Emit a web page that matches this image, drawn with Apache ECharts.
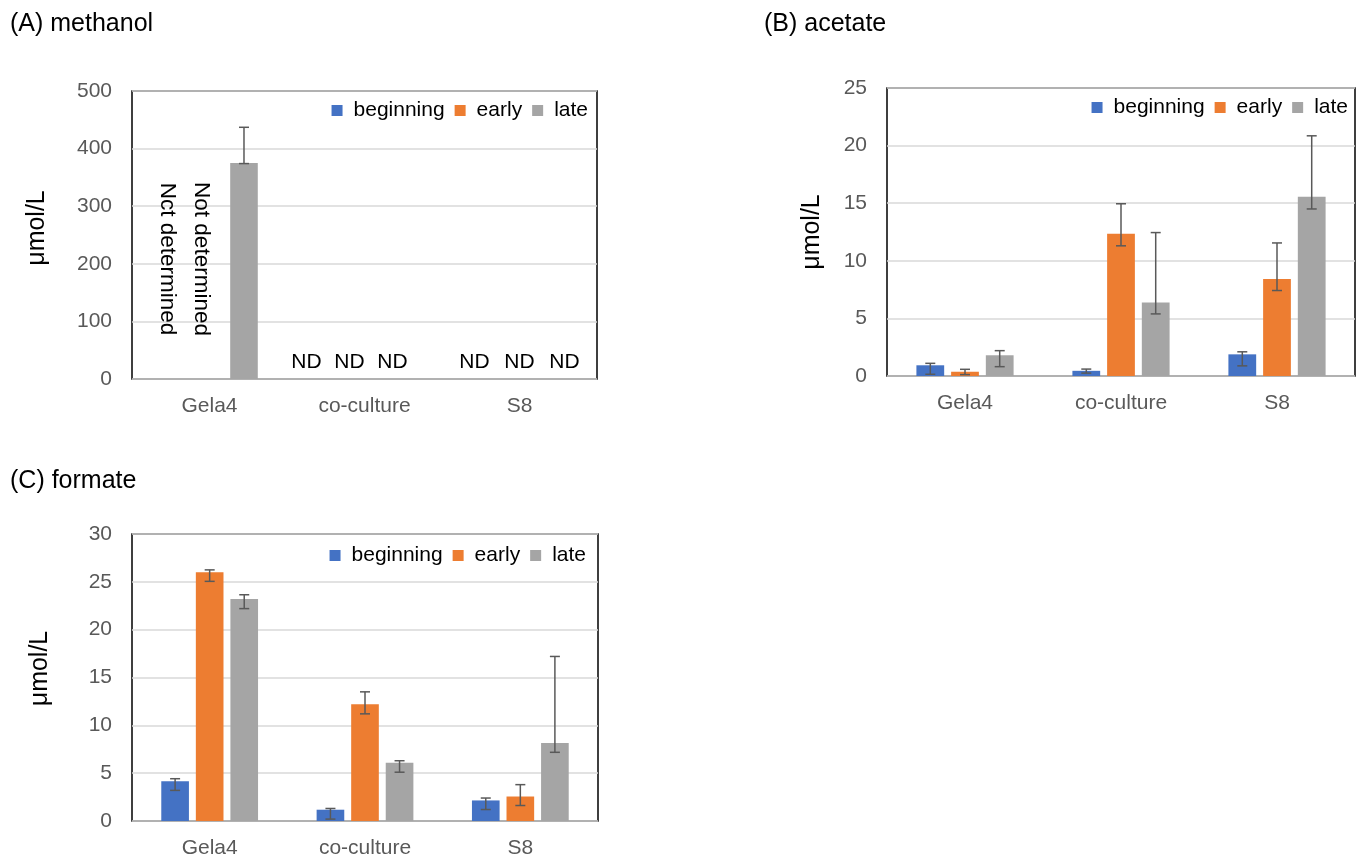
<!DOCTYPE html>
<html>
<head>
<meta charset="utf-8">
<script src="https://cdn.jsdelivr.net/npm/echarts@6/dist/echarts.min.js"></script>
<style>
html,body{margin:0;padding:0;background:#fff;}
#chart{width:1359px;height:859px;}
</style>
</head>
<body>
<div id="chart"></div>
<script>
// ---------- data ----------
const categories = ['Gela4', 'co-culture', 'S8'];
const seriesNames = ['beginning', 'early', 'late'];
const panelTitles = ['(A) methanol', '(B) acetate', '(C) formate'];
const yAxisName = 'μmol/L';

// (A) methanol
const methanolBeginning = [null, null, null];
const methanolEarly = [null, null, null];
const methanolLate = [375, null, null];
const methanolLateLow = [374, null, null];
const methanolLateHigh = [437, null, null];
const methanolNotes = [
  ['Nct determined', 'Not determined', null],
  ['ND', 'ND', 'ND'],
  ['ND', 'ND', 'ND']
];

// (B) acetate
const acetateBeginning = [0.93, 0.45, 1.88];
const acetateEarly = [0.37, 12.35, 8.43];
const acetateLate = [1.8, 6.37, 15.55];
const acetateBeginningLow = [0.15, 0.25, 0.88];
const acetateBeginningHigh = [1.1, 0.6, 2.1];
const acetateEarlyLow = [0.12, 11.3, 7.42];
const acetateEarlyHigh = [0.58, 14.95, 11.55];
const acetateLateLow = [0.81, 5.39, 14.5];
const acetateLateHigh = [2.2, 12.45, 20.85];

// (C) formate
const formateBeginning = [4.15, 1.18, 2.15];
const formateEarly = [26.0, 12.2, 2.56];
const formateLate = [23.2, 6.1, 8.15];
const formateBeginningLow = [3.2, 0.2, 1.2];
const formateBeginningHigh = [4.42, 1.31, 2.4];
const formateEarlyLow = [25.05, 11.2, 1.62];
const formateEarlyHigh = [26.25, 13.5, 3.8];
const formateLateLow = [22.2, 5.1, 7.18];
const formateLateHigh = [23.65, 6.3, 17.2];

// y-axis ticks
const yTicksA = [0, 100, 200, 300, 400, 500];
const yTicksB = [0, 5, 10, 15, 20, 25];
const yTicksC = [0, 5, 10, 15, 20, 25, 30];

// ---------- styling ----------
const FONT = '"Liberation Sans", Arial, Helvetica, sans-serif';
const colors = ['#4472C4', '#ED7D31', '#A5A5A5'];
const BAR_FRAC = 0.178;
const GAP_FRAC = 0.25;
const ERR_COLOR = '#595959';

const panels = [
  {
    title: panelTitles[0], titlePos: {left: 10, top: 12},
    grid: {left: 132, top: 91, width: 465, height: 288},
    ticks: yTicksA, nameGap: 82, namePad: [0, 0, 0, 14],
    legendRight: 1359 - 597 + 9, legendTop: 100,
    values: [methanolBeginning, methanolEarly, methanolLate],
    errors: [null, null, [methanolLateLow, methanolLateHigh]],
    notes: methanolNotes
  },
  {
    title: panelTitles[1], titlePos: {left: 764, top: 12},
    grid: {left: 887, top: 88, width: 468, height: 288},
    ticks: yTicksB, nameGap: 62, namePad: [0, 0, 0, 0],
    legendRight: 11, legendTop: 97,
    values: [acetateBeginning, acetateEarly, acetateLate],
    errors: [[acetateBeginningLow, acetateBeginningHigh], [acetateEarlyLow, acetateEarlyHigh], [acetateLateLow, acetateLateHigh]],
    notes: null
  },
  {
    title: panelTitles[2], titlePos: {left: 10, top: 469},
    grid: {left: 132, top: 534, width: 466, height: 288},
    ticks: yTicksC, nameGap: 79, namePad: [0, 0, 0, 18],
    legendRight: 1359 - 598 + 12, legendTop: 545,
    values: [formateBeginning, formateEarly, formateLate],
    errors: [[formateBeginningLow, formateBeginningHigh], [formateEarlyLow, formateEarlyHigh], [formateLateLow, formateLateHigh]],
    notes: null
  }
];

function errorRenderer(slot) {
  return function (params, api) {
    const ci = api.value(0);
    const lo = api.coord([ci, api.value(1)]);
    const hi = api.coord([ci, api.value(2)]);
    const band = api.size([1, 0])[0];
    const bw = band * BAR_FRAC;
    const x = lo[0] + (slot - 1) * bw * (1 + GAP_FRAC);
    const c = 5;
    const st = {stroke: ERR_COLOR, lineWidth: 1.5};
    return {
      type: 'group',
      children: [
        {type: 'line', shape: {x1: x, y1: hi[1], x2: x, y2: lo[1]}, style: st},
        {type: 'line', shape: {x1: x - c, y1: hi[1], x2: x + c, y2: hi[1]}, style: st},
        {type: 'line', shape: {x1: x - c, y1: lo[1], x2: x + c, y2: lo[1]}, style: st}
      ]
    };
  };
}

// pixel nudges of the ND labels (per category, per slot)
const ndNudge = {1: [-58, -15, 28], 2: [-45, 0, 45]};

function noteRenderer(params, api) {
  const ci = api.value(0);
  const slot = api.value(1);
  const text = api.value(2);
  const base = api.coord([ci, 0]);
  const band = api.size([1, 0])[0];
  const bw = band * BAR_FRAC;
  if (text.length > 4) {
    const x = base[0] + (slot - 1) * bw * (1 + GAP_FRAC) - 8;
    return {
      type: 'text', x: x, y: base[1] - 120, rotation: -Math.PI / 2,
      style: {text: text, x: 0, y: 0, align: 'center', verticalAlign: 'middle',
              font: '22.5px ' + FONT, fill: '#000'}
    };
  }
  const nudge = (ndNudge[ci] || [0, 0, 0])[slot];
  return {
    type: 'text', x: base[0] + nudge, y: base[1] - 17,
    style: {text: text, x: 0, y: 0, align: 'center', verticalAlign: 'middle',
            font: '21px ' + FONT, fill: '#000'}
  };
}

const option = {
  animation: false,
  backgroundColor: '#fff',
  title: [], legend: [], grid: [], xAxis: [], yAxis: [], series: []
};

panels.forEach(function (p, pi) {
  option.title.push({
    text: p.title, left: p.titlePos.left, top: p.titlePos.top, padding: 0,
    textStyle: {fontFamily: FONT, fontSize: 25, fontWeight: 'normal', color: '#000'}
  });
  option.legend.push({
    data: seriesNames, right: p.legendRight, top: p.legendTop, padding: 0,
    icon: 'rect', itemWidth: 11, itemHeight: 11, itemGap: 10,
    selectedMode: false,
    textStyle: {fontFamily: FONT, fontSize: 21, color: '#000', padding: [0, 0, 0, 6]}
  });
  option.grid.push(Object.assign({
    show: true, borderColor: '#000', borderWidth: 1.5, backgroundColor: 'transparent',
    containLabel: false
  }, p.grid));
  option.xAxis.push({
    type: 'category', gridIndex: pi, data: categories,
    axisLine: {show: false}, axisTick: {show: false},
    axisLabel: {fontFamily: FONT, fontSize: 21, color: '#595959', margin: 17}
  });
  const t = p.ticks;
  option.yAxis.push({
    type: 'value', gridIndex: pi, min: t[0], max: t[t.length - 1], interval: t[1] - t[0],
    name: yAxisName, nameLocation: 'middle', nameRotate: 90, nameGap: p.nameGap,
    nameTextStyle: {fontFamily: FONT, fontSize: 25, color: '#000', padding: p.namePad},
    axisLine: {show: false}, axisTick: {show: false},
    axisLabel: {fontFamily: FONT, fontSize: 21, color: '#595959', margin: 20},
    splitLine: {show: true, lineStyle: {color: '#d9d9d9', width: 1.5}}
  });
  seriesNames.forEach(function (name, si) {
    option.series.push({
      type: 'bar', name: name, xAxisIndex: pi, yAxisIndex: pi,
      data: p.values[si], barWidth: (BAR_FRAC * 100) + '%', barGap: (GAP_FRAC * 100) + '%',
      itemStyle: {color: colors[si]}, z: 2
    });
  });
  seriesNames.forEach(function (name, si) {
    const e = p.errors[si];
    if (!e) return;
    const d = [];
    for (let i = 0; i < categories.length; i++) {
      if (e[0][i] != null && e[1][i] != null) d.push([i, e[0][i], e[1][i]]);
    }
    option.series.push({
      type: 'custom', name: name + ' error', xAxisIndex: pi, yAxisIndex: pi,
      renderItem: errorRenderer(si), data: d, encode: {x: 0, y: [1, 2]}, z: 5, silent: true
    });
  });
  if (p.notes) {
    const nd = [];
    p.notes.forEach(function (row, ci) {
      row.forEach(function (txt, s) { if (txt) nd.push([ci, s, txt]); });
    });
    option.series.push({
      type: 'custom', name: 'notes', xAxisIndex: pi, yAxisIndex: pi,
      renderItem: noteRenderer, data: nd, encode: {x: 0}, z: 6, silent: true,
      dimensions: ['c', 's', {name: 't', type: 'ordinal'}]
    });
  }
});

const chart = echarts.init(document.getElementById('chart'), null, {renderer: 'canvas'});
chart.setOption(option);
</script>
</body>
</html>
